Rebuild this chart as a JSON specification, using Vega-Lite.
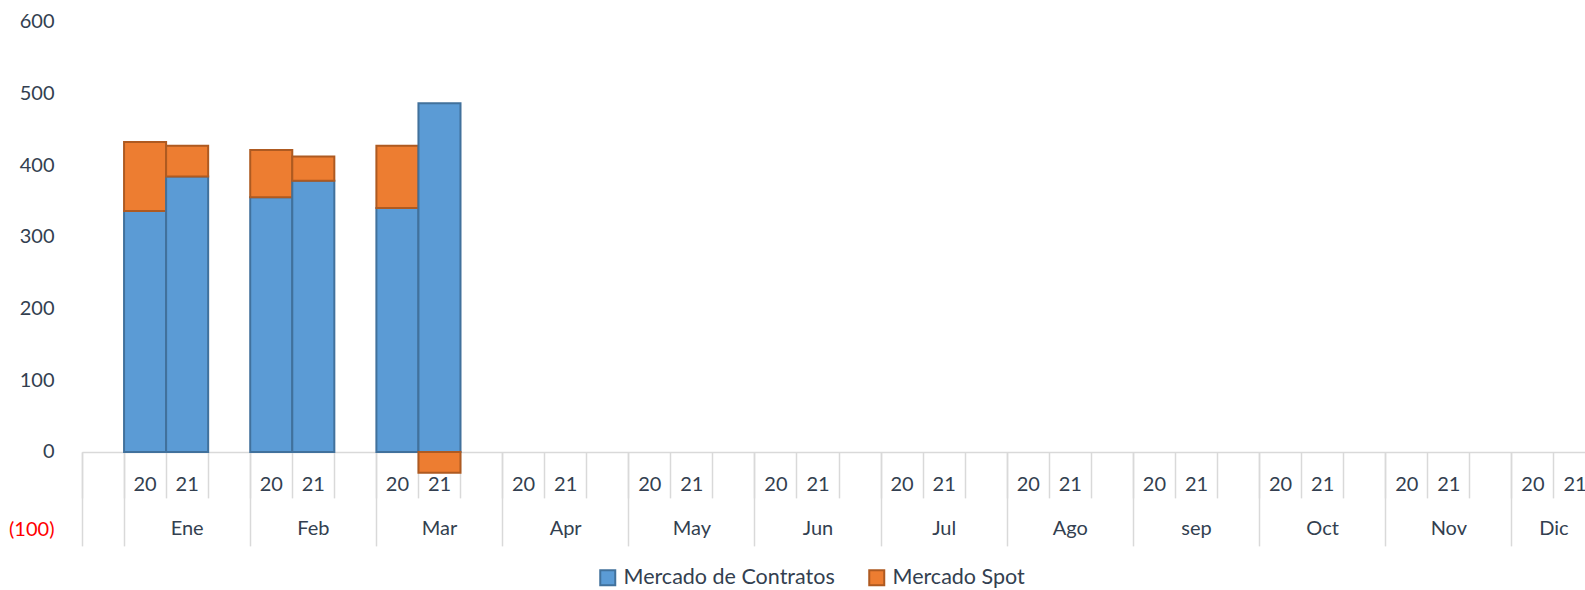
{
  "$schema": "https://vega.github.io/schema/vega-lite/v6.json",
  "autosize": {"type": "none"},
  "width": 1503,
  "height": 502,
  "padding": {"left": 82, "top": 21.6, "right": 0, "bottom": 66.4},
  "background": "#ffffff",
  "config": {
    "view": {"stroke": null},
    "font": "Lato",
    "axis": {"labelFont": "Lato", "labelColor": "#333F50", "grid": false}
  },
  "data": {
    "values": [
      {"cat": "Ene|20", "serie": "Mercado de Contratos", "valor": 336},
      {"cat": "Ene|20", "serie": "Mercado Spot", "valor": 96},
      {"cat": "Ene|21", "serie": "Mercado de Contratos", "valor": 384},
      {"cat": "Ene|21", "serie": "Mercado Spot", "valor": 43},
      {"cat": "Feb|20", "serie": "Mercado de Contratos", "valor": 355},
      {"cat": "Feb|20", "serie": "Mercado Spot", "valor": 66},
      {"cat": "Feb|21", "serie": "Mercado de Contratos", "valor": 378},
      {"cat": "Feb|21", "serie": "Mercado Spot", "valor": 34},
      {"cat": "Mar|20", "serie": "Mercado de Contratos", "valor": 340},
      {"cat": "Mar|20", "serie": "Mercado Spot", "valor": 87},
      {"cat": "Mar|21", "serie": "Mercado de Contratos", "valor": 486},
      {"cat": "Mar|21", "serie": "Mercado Spot", "valor": -29}
    ]
  },
  "layer": [
    {
      "mark": {"type": "bar", "strokeWidth": 2},
      "encoding": {
        "x": {
          "field": "cat",
          "type": "nominal",
          "scale": {
            "domain": ["|", "Ene|20", "Ene|21", "Ene|", "Feb|20", "Feb|21", "Feb|", "Mar|20", "Mar|21", "Mar|", "Apr|20", "Apr|21", "Apr|", "May|20", "May|21", "May|", "Jun|20", "Jun|21", "Jun|", "Jul|20", "Jul|21", "Jul|", "Ago|20", "Ago|21", "Ago|", "sep|20", "sep|21", "sep|", "Oct|20", "Oct|21", "Oct|", "Nov|20", "Nov|21", "Nov|", "Dic|20", "Dic|21"],
            "range": [0, 1514],
            "paddingInner": 0,
            "paddingOuter": 0
          },
          "axis": {
            "orient": "bottom",
            "title": null,
            "offset": -71.7,
            "domainColor": "#D9D9D9",
            "domainWidth": 1.5,
            "bandPosition": 0,
            "tickSize": 46,
            "tickColor": "#D9D9D9",
            "tickWidth": 1.5,
            "labelAngle": 0,
            "labelBaseline": "middle",
            "labelPadding": -13,
            "labelFontSize": 20,
            "labelOverlap": false,
            "labelExpr": "split(datum.value, '|')[1]"
          }
        },
        "y": {
          "field": "valor",
          "type": "quantitative",
          "stack": "zero",
          "scale": {"domain": [-100, 600], "nice": false, "zero": false},
          "axis": {
            "title": null,
            "domain": false,
            "ticks": false,
            "tickSize": 0,
            "values": [-100, 0, 100, 200, 300, 400, 500, 600],
            "labelPadding": 28,
            "labelFontSize": 20,
            "labelOffset": {"condition": {"test": "datum.value < 0", "value": 6}, "value": 0},
            "labelExpr": "datum.value < 0 ? '(' + format(-datum.value, 'd') + ')' : format(datum.value, 'd')",
            "labelColor": {"condition": {"test": "datum.value < 0", "value": "#FF0000"}, "value": "#333F50"}
          }
        },
        "color": {
          "field": "serie",
          "type": "nominal",
          "scale": {"domain": ["Mercado de Contratos", "Mercado Spot"], "range": ["#5B9BD5", "#ED7D31"]},
          "legend": {
            "title": null,
            "orient": "none",
            "direction": "horizontal",
            "legendX": 515,
            "legendY": 545,
            "padding": 0,
            "symbolType": "square",
            "symbolSize": 225,
            "symbolStrokeWidth": 2,
            "symbolOpacity": 1,
            "labelFont": "Lato",
            "labelFontSize": 21.5,
            "labelColor": "#333F50",
            "labelLimit": 0,
            "labelOffset": 5,
            "columnPadding": 30
          }
        },
        "stroke": {
          "field": "serie",
          "type": "nominal",
          "scale": {"domain": ["Mercado de Contratos", "Mercado Spot"], "range": ["#41719C", "#AE5A21"]},
          "legend": {
            "title": null,
            "orient": "none",
            "direction": "horizontal",
            "legendX": 515,
            "legendY": 545,
            "padding": 0,
            "symbolType": "square",
            "symbolSize": 225,
            "symbolStrokeWidth": 2,
            "symbolOpacity": 1,
            "labelFont": "Lato",
            "labelFontSize": 21.5,
            "labelColor": "#333F50",
            "labelLimit": 0,
            "labelOffset": 5,
            "columnPadding": 30
          }
        }
      }
    },
    {
      "mark": {"type": "rule", "opacity": 0},
      "encoding": {
        "x": {
          "field": "cat",
          "type": "nominal",
          "scale": {
            "domain": ["|", "Ene|20", "Ene|21", "Ene|", "Feb|20", "Feb|21", "Feb|", "Mar|20", "Mar|21", "Mar|", "Apr|20", "Apr|21", "Apr|", "May|20", "May|21", "May|", "Jun|20", "Jun|21", "Jun|", "Jul|20", "Jul|21", "Jul|", "Ago|20", "Ago|21", "Ago|", "sep|20", "sep|21", "sep|", "Oct|20", "Oct|21", "Oct|", "Nov|20", "Nov|21", "Nov|", "Dic|20", "Dic|21"],
            "range": [0, 1514],
            "paddingInner": 0,
            "paddingOuter": 0
          },
          "axis": {
            "orient": "bottom",
            "title": null,
            "offset": -71.7,
            "domain": false,
            "values": ["|", "Ene|20", "Feb|20", "Mar|20", "Apr|20", "May|20", "Jun|20", "Jul|20", "Ago|20", "sep|20", "Oct|20", "Nov|20", "Dic|20"],
            "bandPosition": 0,
            "tickSize": 94,
            "tickColor": "#D9D9D9",
            "tickWidth": 1.5,
            "labelAngle": 0,
            "labelBaseline": "middle",
            "labelPadding": -17,
            "labelFontSize": 20,
            "labelOverlap": false,
            "labelOffset": {"condition": {"test": "datum.value == 'Dic|20'", "value": 21}, "value": 42.06},
            "labelExpr": "split(datum.value, '|')[0]"
          }
        }
      }
    }
  ],
  "resolve": {"axis": {"x": "independent"}}
}
